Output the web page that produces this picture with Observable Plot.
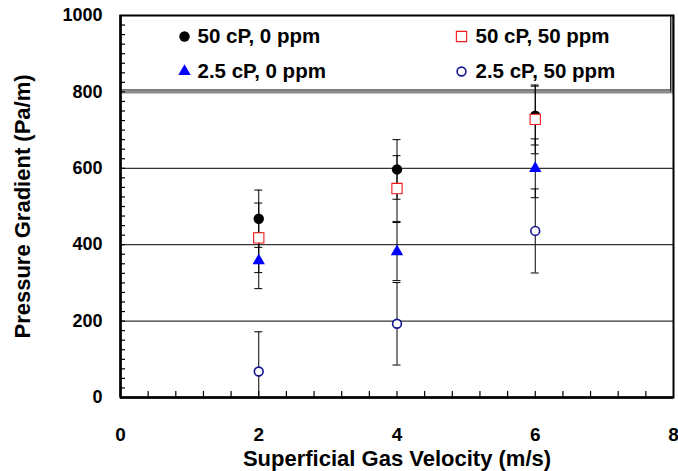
<!DOCTYPE html>
<html>
<head>
<meta charset="utf-8">
<script src="https://cdn.jsdelivr.net/npm/d3@7"></script>
<script src="https://cdn.jsdelivr.net/npm/@observablehq/plot@0.6"></script>
<style>
  html, body { margin: 0; padding: 0; background: #fff; }
</style>
</head>
<body>
<div id="chart"></div>
<script>
// ---- data ----
const velocity = [2, 4, 6]; // superficial gas velocity (m/s)
const seriesNames = ["50 cP, 0 ppm", "50 cP, 50 ppm", "2.5 cP, 0 ppm", "2.5 cP, 50 ppm"];
const grad50cP0ppm = [468, 597, 738];
const grad50cP50ppm = [418, 547, 728];
const grad25cP0ppm = [358, 382, 600];
const grad25cP50ppm = [68, 193, 436];
const err50cP0ppm = [75, 78, 77];
const err50cP50ppm = [91, 86, 90];
const err25cP0ppm = [73, 76, 77];
const err25cP50ppm = [104, 108, 110];
const xTicks = [0, 2, 4, 6, 8];
const yTicks = [0, 200, 400, 600, 800, 1000];
const xMinorTicks = [0.4, 0.8, 1.2, 1.6, 2, 2.4, 2.8, 3.2, 3.6, 4, 4.4, 4.8, 5.2, 5.6, 6, 6.4, 6.8, 7.2, 7.6];
const yMinorStep = 25;
const gridValues = [200, 400, 600];
const xDomain = [0, 8];
const yDomain = [0, 1000];
const legendFloor = 800; // legend box occupies the band above this value
const xLabel = "Superficial Gas Velocity (m/s)";
const yLabel = "Pressure Gradient (Pa/m)";

// ---- styles ----
const styles = [
  {symbol: "circle", fill: "black", stroke: "none", r: 5.2, strokeWidth: 0},
  {symbol: "square", fill: "white", stroke: "#f01818", r: 5.8, strokeWidth: 1.1},
  {symbol: "triangle", fill: "#0000ff", stroke: "none", r: 4.6, strokeWidth: 0},
  {symbol: "circle", fill: "white", stroke: "#141490", r: 4.4, strokeWidth: 1.6}
];
const legendPos = [
  {mx: 64, tx: 77, dy: 21},
  {mx: 341, tx: 355, dy: 21},
  {mx: 64, tx: 77, dy: 56},
  {mx: 341, tx: 355, dy: 56}
];

const seriesValues = [grad50cP0ppm, grad50cP50ppm, grad25cP0ppm, grad25cP50ppm];
const seriesErrors = [err50cP0ppm, err50cP50ppm, err25cP0ppm, err25cP50ppm];

const rows = seriesNames.flatMap((name, s) =>
  velocity.map((v, i) => ({
    series: name,
    x: v,
    y: seriesValues[s][i],
    lo: seriesValues[s][i] - seriesErrors[s][i],
    hi: seriesValues[s][i] + seriesErrors[s][i]
  }))
);

const yMinorTicks = d3.range(yDomain[0] + yMinorStep, yDomain[1], yMinorStep);
const font = "'Liberation Sans', Arial, Helvetica, sans-serif";

const marks = [
  Plot.ruleY(gridValues, {stroke: "black", strokeWidth: 1}),
  // legend box borders
  Plot.ruleY([legendFloor], {stroke: "#8c8c8c", strokeWidth: 3}),
  Plot.ruleY([legendFloor], {stroke: "#222", strokeWidth: 1, dy: -2}),
  Plot.ruleX([xDomain[1]], {y1: legendFloor, y2: yDomain[1], stroke: "#8c8c8c", strokeWidth: 2, dx: -1.5}),
  Plot.ruleX([xDomain[1]], {y1: legendFloor, y2: yDomain[1], stroke: "#222", strokeWidth: 1, dx: -3}),
  // inward minor ticks
  Plot.ruleY(yMinorTicks, {x1: xDomain[0], x2: xDomain[0], insetRight: -5, stroke: "black", strokeWidth: 1.2}),
  Plot.ruleX(xMinorTicks, {y1: yDomain[0], y2: yDomain[0], insetTop: -6, stroke: "black", strokeWidth: 1.2}),
  // error bars
  Plot.ruleX(rows, {x: "x", y1: "lo", y2: "hi", stroke: "black", strokeWidth: 1, clip: true}),
  Plot.ruleY(rows, {y: "hi", x1: "x", x2: "x", insetLeft: -4, insetRight: -4, stroke: "black", strokeWidth: 1, clip: true}),
  Plot.ruleY(rows, {y: "lo", x1: "x", x2: "x", insetLeft: -4, insetRight: -4, stroke: "black", strokeWidth: 1, clip: true}),
  // markers
  ...seriesNames.map((name, s) =>
    Plot.dot(rows.filter(d => d.series === name), {
      x: "x", y: "y", symbol: styles[s].symbol, fill: styles[s].fill,
      stroke: styles[s].stroke, strokeWidth: styles[s].strokeWidth, r: styles[s].r
    })
  ),
  // frame and thicker axis lines
  Plot.frame({stroke: "black", strokeWidth: 2}),
  Plot.ruleX([xDomain[0]], {stroke: "black", strokeWidth: 2.5}),
  Plot.ruleY([yDomain[0]], {stroke: "black", strokeWidth: 2.5}),
  // axes
  Plot.axisY(yTicks, {tickSize: 0, tickPadding: 18, fontSize: 18, fontWeight: "bold", tickFormat: d => String(d), label: null}),
  Plot.axisX(xTicks, {tickSize: 0, tickPadding: 30, fontSize: 19, fontWeight: "bold", label: null}),
  Plot.text([yLabel], {frameAnchor: "left", dx: -98, rotate: -90, text: d => d, textAnchor: "middle", lineAnchor: "middle", fontSize: 22, fontWeight: "bold"}),
  Plot.text([xLabel], {frameAnchor: "bottom", dy: 61, text: d => d, textAnchor: "middle", lineAnchor: "middle", fontSize: 22, fontWeight: "bold"}),
  // legend entries
  ...seriesNames.flatMap((name, s) => [
    Plot.dot([name], {
      frameAnchor: "top-left", dx: legendPos[s].mx, dy: legendPos[s].dy,
      symbol: styles[s].symbol, fill: styles[s].fill, stroke: styles[s].stroke,
      strokeWidth: styles[s].strokeWidth, r: styles[s].r
    }),
    Plot.text([name], {
      frameAnchor: "top-left", dx: legendPos[s].tx, dy: legendPos[s].dy,
      text: d => d, textAnchor: "start", lineAnchor: "middle", fontSize: 20.5, fontWeight: "bold"
    })
  ])
];

const chart = Plot.plot({
  width: 678,
  height: 471,
  marginLeft: 120,
  marginRight: 5,
  marginTop: 15,
  marginBottom: 74,
  style: {fontFamily: font, background: "white", color: "black"},
  x: {domain: xDomain, label: null},
  y: {domain: yDomain, label: null},
  marks
});
document.getElementById("chart").append(chart);
</script>
</body>
</html>
